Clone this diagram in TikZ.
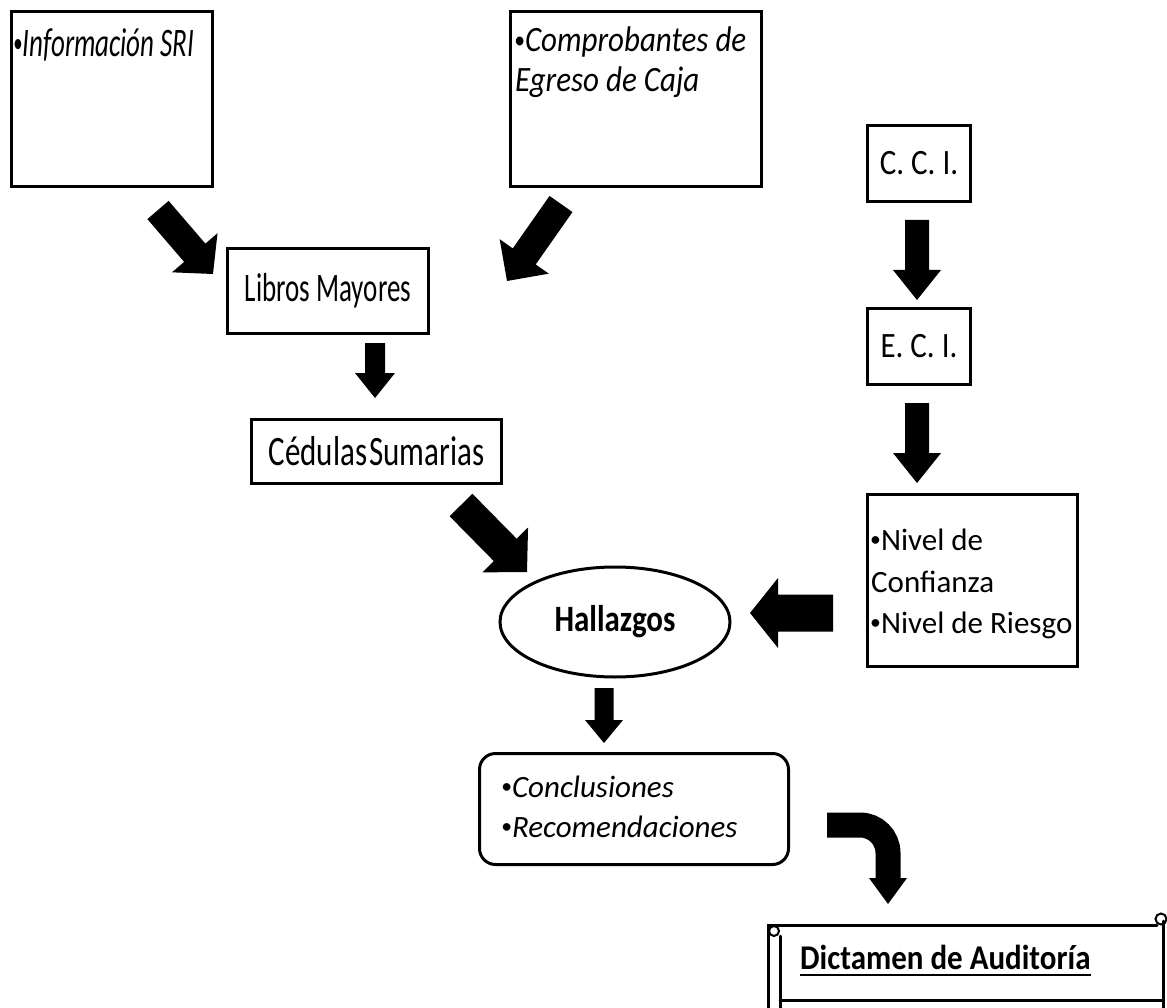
\documentclass[tikz,border=0pt]{standalone}
\usepackage{fontspec}
\usepackage{graphicx}
\setmainfont{Carlito}
\usetikzlibrary{calc,shapes.geometric}

% text helpers: font size, vertical stretch, small bullet
\newcommand\fs[1]{\fontsize{#1}{#1}\selectfont}
\newcommand\vs[2]{\scalebox{1}[#1]{#2}}
\newcommand\bul{\raisebox{0.1em}{\scalebox{0.7}{•}}}

% filled block arrow: tail, tip, half shaft width, half head width, head length
\newcommand\blockarrow[5]{%
  \coordinate (bh) at ($(#2)!#5!(#1)$);
  \fill ($(#1)!#3!90:(#2)$) -- ($(bh)!#3!90:(#2)$) -- ($(bh)!#4!90:(#2)$) -- (#2)
     -- ($(bh)!#4!-90:(#2)$) -- ($(bh)!#3!-90:(#2)$) -- ($(#1)!#3!-90:(#2)$) -- cycle;}

\begin{document}
\begin{tikzpicture}[x=1pt,y=-1pt,
  box/.style={draw, line width=3pt, inner sep=0pt, anchor=north west},
  txt/.style={inner sep=0pt, anchor=base west},
  scroll/.style={line width=3pt, line cap=round},
  every node/.style={font=\fs{31}}]
\useasboundingbox[fill=white] (0,0) rectangle (1167,1008);

% ---- source documents ----
\node[box, minimum width=201pt, minimum height=175pt] (sri) at (10,10) {};
\node[txt] (sri1) at (13,57) {\fs{27}\vs{1.5}{\itshape \bul Información SRI}};

\node[box, minimum width=251pt, minimum height=175pt] (comp) at (509,10) {};
\node[txt] (comp1) at (514,52) {\vs{1.15}{\itshape \bul Comprobantes de}};
\node[txt] (comp2) at (515,92) {\vs{1.15}{\itshape Egreso de Caja}};

\node[box, minimum width=201pt, minimum height=85pt] (lib) at (226,247)
  {\fs{27}\vs{1.5}{Libros Mayores}};
\node[box, minimum width=250pt, minimum height=64pt] (ced) at (250,418)
  {\vs{1.35}{Cédulas\hspace{2pt}Sumarias}};

% ---- internal control column ----
\node[box, minimum width=103pt, minimum height=76pt] (cci) at (866,124) {\vs{1.15}{C. C. I.}};
\node[box, minimum width=103pt, minimum height=76pt] (eci) at (866,307) {\vs{1.15}{E. C. I.}};
\node[box, minimum width=210pt, minimum height=172pt] (niv) at (866,493) {};
\node[txt] (niv1) at (870,550) {\bul Nivel de};
\node[txt] (niv2) at (871,592) {Confianza};
\node[txt] (niv3) at (870,633) {\bul Nivel de Riesgo};

% ---- findings and results ----
\node[draw, ellipse, line width=3pt, inner sep=0pt, minimum width=230pt, minimum height=110pt]
  (hal) at (615,622) {\vs{1.2}{\bfseries Hallazgos}};

\node[box, rounded corners=16pt, minimum width=309pt, minimum height=111pt] (con) at (478,752) {};
\node[txt] (con1) at (501,797) {\itshape \bul Conclusiones};
\node[txt] (con2) at (501,837) {\itshape \bul Recomendaciones};

% ---- report scroll ----
\draw[scroll] (768,1012) -- (768,925) -- (1157,925);
\draw[scroll] (780,1012) -- (780,936);
\draw[line width=2pt] (774,931) circle[radius=5pt];
\draw[line width=2pt] (1161,919) circle[radius=5.5pt];
\draw[scroll] (1163,921) -- (1163,1012);
\draw[scroll] (780,1000) -- (1163,1000);
\node[txt] (dic) at (800,969) {\vs{1.12}{\bfseries Dictamen de Auditoría}};
\draw[line width=2.5pt] ($(dic.base west)+(0,6)$) -- ($(dic.base east)+(0,6)$);

% ---- block arrows ----
\coordinate (a1t) at (158,210);  \coordinate (a1h) at (213,274);
\coordinate (a2t) at (561,204);  \coordinate (a2h) at (507,281);
\coordinate (a3t) at (375,343);  \coordinate (a3h) at (375,398);
\coordinate (a4t) at (461,505);  \coordinate (a4h) at (527,572);
\coordinate (a5t) at (917,220);  \coordinate (a5h) at (917,300);
\coordinate (a6t) at (917,403);  \coordinate (a6h) at (917,483);
\coordinate (a7t) at (833,613);  \coordinate (a7h) at (750,613);
\coordinate (a8t) at (604,688);  \coordinate (a8h) at (604,743);
\blockarrow{a1t}{a1h}{14pt}{30pt}{28pt}
\blockarrow{a2t}{a2h}{14pt}{30pt}{30pt}
\blockarrow{a3t}{a3h}{10pt}{20pt}{25pt}
\blockarrow{a4t}{a4h}{16pt}{32pt}{31pt}
\blockarrow{a5t}{a5h}{12pt}{24pt}{30pt}
\blockarrow{a6t}{a6h}{12pt}{24pt}{30pt}
\blockarrow{a7t}{a7h}{18.5pt}{35pt}{28pt}
\blockarrow{a8t}{a8h}{9.5pt}{19pt}{23pt}

% bent arrow towards the report
\coordinate (a9t) at (827,825);
\coordinate (a9k) at (888,825);
\coordinate (a9b) at (888,879);
\coordinate (a9h) at (888,904);
\draw[line width=25pt, rounded corners=28pt] (a9t) -- (a9k) -- (a9b);
\fill ($(a9b)+(-19,-1)$) -- ($(a9b)+(19,-1)$) -- (a9h) -- cycle;
\end{tikzpicture}
\end{document}
